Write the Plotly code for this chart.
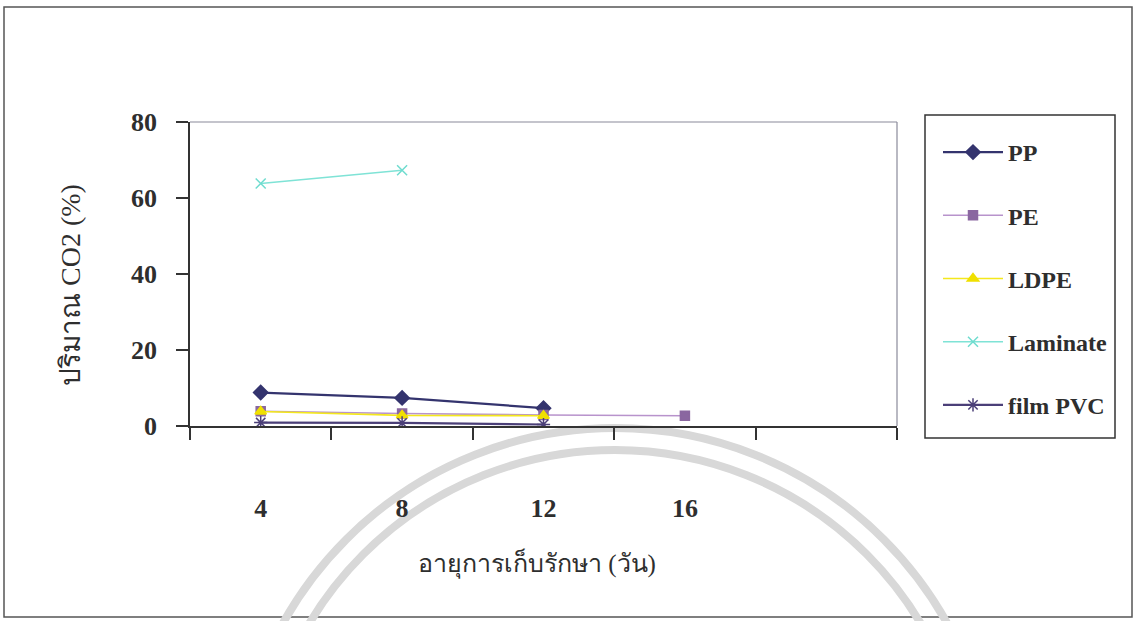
import plotly.graph_objects as go

# Storage day (x) and CO2 content (%) for each packaging film
days = [4, 8, 12, 16]
pp = [8.8, 7.4, 4.7]
pe = [3.9, 3.3, 2.9, 2.7]
ldpe = [3.8, 2.8, 2.7]
laminate = [63.8, 67.3]
film_pvc = [0.9, 0.8, 0.4]

x_tick_labels = ["4", "8", "12", "16"]
y_ticks = [0, 20, 40, 60, 80]

# Category boundaries where the x-axis tick marks sit
x_bounds = [2, 6, 10, 14, 18, 22]

W, H = 1135, 621
L, R, T, B = 190, 897, 122, 426  # plot area in pixels


def px_x(p):
    return (p - L) / (R - L)


def px_y(p):
    return (B - p) / (B - T)


serif = "Liberation Serif, Times New Roman, serif"
ink = "#2e2e2e"

series = [
    ("PP", days[:3], pp, "#34346e", "#34346e", "diamond", 11, 2.2),
    ("PE", days, pe, "#b893cc", "#8a67a0", "square", 9, 1.6),
    ("LDPE", days[:3], ldpe, "#f4e81c", "#f0e000", "triangle-up", 10, 1.6),
    ("Laminate", days[:2], laminate, "#7fe3d6", "#6fdccf", "x-thin-open", 10, 1.6),
    ("film PVC", days[:3], film_pvc, "#4b3f78", "#4b3f78", "asterisk-open", 11, 2.2),
]

fig = go.Figure()
for i, (name, xs, ys, lc, mc, sym, ms, lw) in enumerate(series):
    fig.add_trace(go.Scatter(
        x=xs, y=ys, name=name, mode="lines+markers",
        line=dict(color=lc, width=lw),
        marker=dict(symbol=sym, size=ms, color=mc, line=dict(color=mc, width=1.5)),
        legendgroup=f"g{i}",
    ))

seal = "#d8d8d8"
shapes = [
    # outer chart frame
    dict(type="rect", xref="paper", yref="paper",
         x0=px_x(4), x1=px_x(1132), y0=px_y(617), y1=px_y(7),
         line=dict(color="#555555", width=1.5), layer="below"),
    # faint seal arcs in the background
    dict(type="circle", xref="paper", yref="paper",
         x0=px_x(615 - 380), x1=px_x(615 + 380), y0=px_y(808 + 380), y1=px_y(808 - 380),
         line=dict(color=seal, width=8), layer="below"),
    dict(type="circle", xref="paper", yref="paper",
         x0=px_x(615 - 356), x1=px_x(615 + 356), y0=px_y(806 + 356), y1=px_y(806 - 356),
         line=dict(color=seal, width=8), layer="below"),
    # plot area top and right border
    dict(type="line", xref="paper", yref="paper", x0=0, x1=1, y0=1, y1=1,
         line=dict(color="#8a8a9a", width=1.2)),
    dict(type="line", xref="paper", yref="paper", x0=1, x1=1, y0=0, y1=1,
         line=dict(color="#8a8a9a", width=1.2)),
    # legend box
    dict(type="rect", xref="paper", yref="paper",
         x0=px_x(925), x1=px_x(1115), y0=px_y(438), y1=px_y(115),
         line=dict(color="#333333", width=1.5), fillcolor="white"),
]

annotations = [
    dict(text="อายุการเก็บรักษา (วัน)", xref="paper", yref="paper",
         x=px_x(537), y=px_y(563), xanchor="center", yanchor="middle",
         showarrow=False, font=dict(size=25, color=ink)),
    dict(text="ปริมาณ CO2 (%)", xref="paper", yref="paper",
         x=px_x(70), y=px_y(285), xanchor="center", yanchor="middle",
         textangle=-90, showarrow=False, font=dict(size=28, color=ink)),
]

fig.update_layout(
    width=W, height=H,
    margin=dict(l=L, r=W - R, t=T, b=H - B),
    paper_bgcolor="white", plot_bgcolor="rgba(0,0,0,0)",
    font=dict(family=serif, size=20, color=ink),
    showlegend=True,
    legend=dict(
        x=px_x(938), y=px_y(130), xanchor="left", yanchor="top",
        bgcolor="rgba(0,0,0,0)", borderwidth=0,
        font=dict(family=serif, size=24, color=ink, weight="bold"),
        tracegroupgap=29, traceorder="grouped", itemwidth=60,
    ),
    xaxis=dict(
        range=[2, 22], tickmode="array", tickvals=days, ticktext=x_tick_labels,
        ticks="", showgrid=False, zeroline=False,
        showline=True, linecolor="#333333", linewidth=1.5,
        ticklabelstandoff=58,
        tickfont=dict(family=serif, size=26, color=ink, weight="bold"),
        minor=dict(tickmode="array", tickvals=x_bounds, ticks="outside",
                   ticklen=12, tickwidth=1.5, tickcolor="#333333", showgrid=False),
    ),
    yaxis=dict(
        range=[0, 80], tickmode="array", tickvals=y_ticks,
        ticks="outside", ticklen=12, tickwidth=1.5, tickcolor="#333333",
        showgrid=False, zeroline=False,
        showline=True, linecolor="#333333", linewidth=1.5,
        ticklabelstandoff=14,
        tickfont=dict(family=serif, size=26, color=ink, weight="bold"),
    ),
    shapes=shapes,
    annotations=annotations,
)

fig.write_html("out.html")
